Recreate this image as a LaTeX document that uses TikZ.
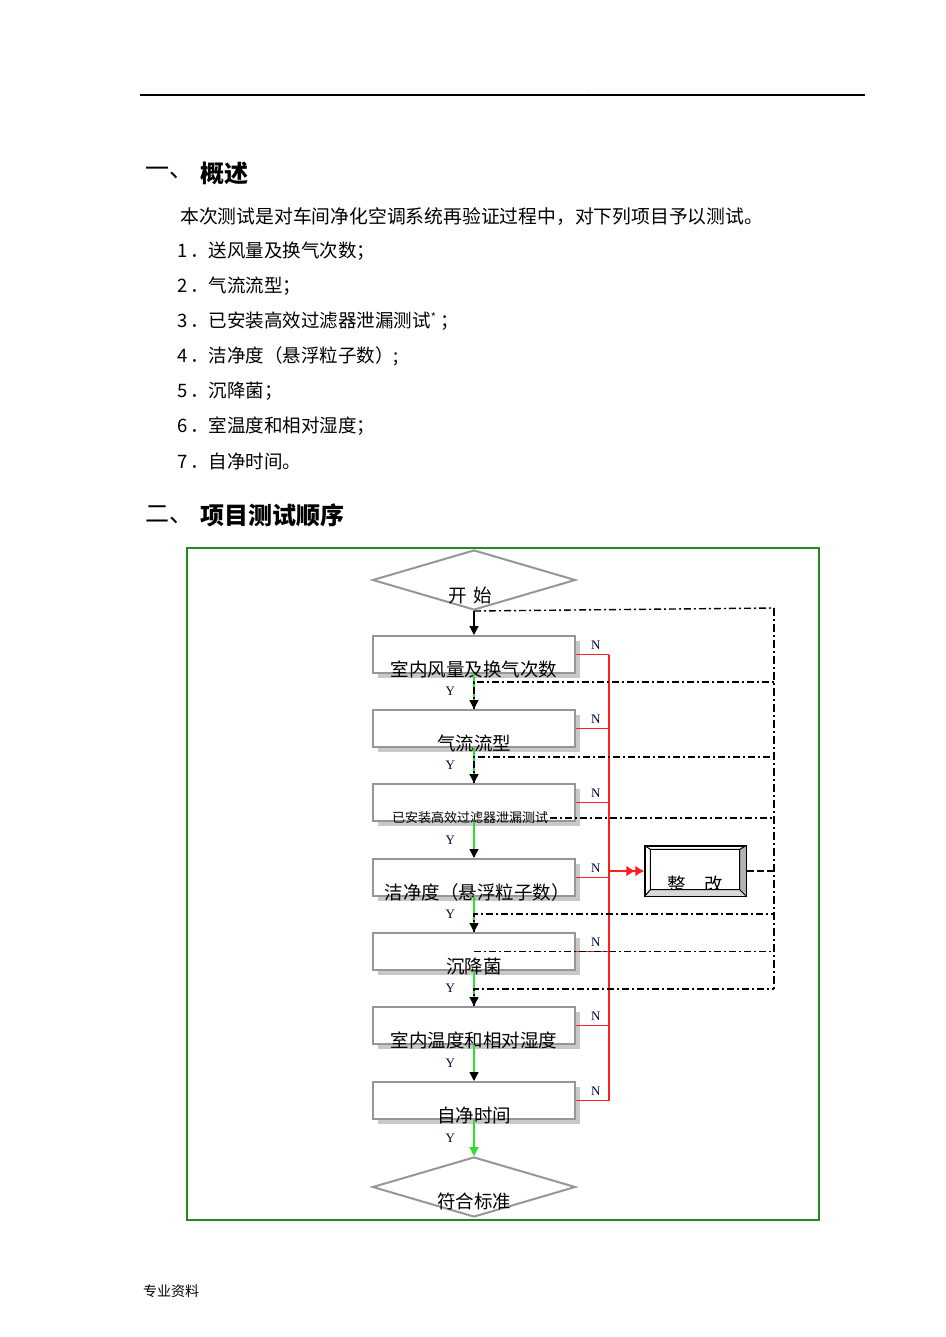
\documentclass[tikz,border=0pt]{standalone}
\usepackage{fontspec}
\setmainfont{Noto Sans CJK SC}
\newfontfamily\latserif{Liberation Serif}
\usetikzlibrary{shapes.geometric,arrows.meta}
\definecolor{framegreen}{RGB}{34,139,34}
\definecolor{boxgrey}{RGB}{150,150,150}
\definecolor{shadegrey}{RGB}{200,200,200}
\definecolor{nred}{RGB}{255,30,30}
\definecolor{ygreen}{RGB}{40,225,40}
\newcommand{\fsz}[1]{\fontsize{#1}{#1}\selectfont}

\begin{document}
\begin{tikzpicture}[x=1pt,y=-1pt,
    txt/.style={anchor=west, inner sep=0pt},
    testbox/.style={draw=boxgrey, line width=2pt, fill=white, minimum width=202pt,
        minimum height=37pt, inner sep=0pt,
        preaction={fill=shadegrey, transform canvas={xshift=4.5pt,yshift=-4.5pt}}},
    boxtext/.style={font=\fsz{18.5}, yshift=-14.5pt},
    decide/.style={diamond, draw=boxgrey, line width=2pt, fill=white, minimum width=203pt,
        inner sep=0pt},
    blk/.style={line width=1.3pt, -{Triangle[length=9pt,width=9pt]}},
    yes/.style={draw=ygreen, line width=1.4pt, -{Triangle[length=9pt,width=9pt,color=black]}},
    ylab/.style={left=15pt, font=\latserif\fsz{13}, text=black!80!blue},
    fb/.style={line width=1.4pt, dash pattern=on 7pt off 3pt on 2pt off 3pt},
    nline/.style={draw=nred, line width=1.9pt},
    nlab/.style={above=1pt, pos=0.6, font=\latserif\fsz{13}, text=black!80!blue}]
\useasboundingbox (0,0) rectangle (945,1337);
\fill[white] (0,0) rectangle (945,1337);

% page text
\draw[line width=1.3pt] (140,95) -- (865,95);
\node[inner sep=0pt, font=\fsz{5}] (dot) at (589,91) {.};
\node[txt, font=\fsz{24}] (h1n) at (145,173) {一、};
\node[txt, font=\fsz{24}\bfseries] (h1) at (200,173) {概述};
\node[txt, font=\fsz{18.8}] (intro) at (180,217) {本次测试是对车间净化空调系统再验证过程中，对下列项目予以测试。};
\node[txt, font=\fsz{18.5}] (i1) at (177,251) {1\hspace{3pt}．送风量及换气次数；};
\node[txt, font=\fsz{18.5}] (i2) at (177,286) {2\hspace{3pt}．气流流型；};
\node[txt, font=\fsz{18.5}] (i3) at (177,321) {3\hspace{3pt}．已安装高效过滤器泄漏测试\raisebox{6pt}{\fsz{11}*}\hspace{4pt}；};
\node[txt, font=\fsz{18.5}] (i4) at (177,356) {4\hspace{3pt}．洁净度（悬浮粒子数）;};
\node[txt, font=\fsz{18.5}] (i5) at (177,391) {5\hspace{3pt}．沉降菌；};
\node[txt, font=\fsz{18.5}] (i6) at (177,426) {6\hspace{3pt}．室温度和相对湿度；};
\node[txt, font=\fsz{18.5}] (i7) at (177,461) {7\hspace{3pt}．自净时间。};
\node[txt, font=\fsz{24}] (h2n) at (145,515) {二、};
\node[txt, font=\fsz{24}\bfseries] (h2) at (200,515) {项目测试顺序};
\node[txt, font=\fsz{14}] (foot) at (143,1291) {专业资料};

% flow chart frame
\draw[framegreen, line width=2pt] (187,548) rectangle (819,1220);

% steps
\node[decide, minimum height=60pt, label={[font=\fsz{18.5}, xshift=-4pt, yshift=-15pt]center:开\hspace{6pt}始}] (st) at (474,580) {};
\node[testbox, label={[boxtext]center:室内风量及换气次数}] (b1) at (474,654.5) {};
\node[testbox, label={[boxtext]center:气流流型}] (b2) at (474,728.5) {};
\node[testbox, label={[font=\fsz{13}, xshift=-4pt, yshift=-15.5pt]center:已安装高效过滤器泄漏测试}] (b3) at (474,802.5) {};
\node[testbox, label={[boxtext, xshift=3pt]center:洁净度（悬浮粒子数）}] (b4) at (474,877.5) {};
\node[testbox, label={[boxtext]center:沉降菌}] (b5) at (474,951.5) {};
\node[testbox, label={[boxtext]center:室内温度和相对湿度}] (b6) at (474,1025.5) {};
\node[testbox, label={[boxtext]center:自净时间}] (b7) at (474,1100.5) {};
\node[decide, minimum height=60pt, label={[font=\fsz{18.5}, yshift=-14pt]center:符合标准}] (ed) at (474,1187) {};

% rework box
\node[draw, line width=1.3pt, fill=white, minimum width=101pt, minimum height=50pt,
    label={[font=\fsz{18.5}, xshift=0pt, yshift=-13pt]center:整\hspace{18.5pt}改}] (zg) at (695.5,871) {};
\coordinate (inw) at ([shift={(6,4)}]zg.north west);
\coordinate (ine) at ([shift={(-7,4)}]zg.north east);
\coordinate (ise) at ([shift={(-7,-7)}]zg.south east);
\coordinate (isw) at ([shift={(6,-7)}]zg.south west);
\fill[gray!60] (zg.north east) -- (zg.south east) -- (ise) -- (ine) -- cycle;
\fill[gray!30] (zg.south west) -- (zg.south east) -- (ise) -- (isw) -- cycle;
\draw[line width=1pt] (inw) rectangle (ise)
    (zg.north west) -- (inw) (zg.north east) -- (ine)
    (zg.south east) -- (ise) (zg.south west) -- (isw);
\draw[line width=1.3pt] (zg.north west) rectangle (zg.south east);

% yes arrows
\draw[blk] (st.south) -- (b1.north);
\draw[yes] (b1.south) -- node[ylab]{Y} (b2.north);
\draw[yes] (b2.south) -- node[ylab]{Y} (b3.north);
\draw[yes] (b3.south) -- node[ylab]{Y} (b4.north);
\draw[yes] (b4.south) -- node[ylab]{Y} (b5.north);
\draw[yes] (b5.south) -- node[ylab]{Y} (b6.north);
\draw[yes] (b6.south) -- node[ylab]{Y} (b7.north);
\draw[yes, -{Triangle[length=9pt,width=9pt]}] (b7.south) -- node[ylab]{Y} (ed.north);

% no branches
\coordinate (bus) at (609,0);
\draw[nline] (b1.east) -- node[nlab]{N} (b1.east -| bus);
\draw[nline] (b2.east) -- node[nlab]{N} (b2.east -| bus);
\draw[nline] (b3.east) -- node[nlab]{N} (b3.east -| bus);
\draw[nline] (b4.east) -- node[nlab]{N} (b4.east -| bus);
\draw[nline] (b5.east) -- node[nlab]{N} (b5.east -| bus);
\draw[nline] (b6.east) -- node[nlab]{N} (b6.east -| bus);
\draw[nline] (b7.east) -- node[nlab]{N} (b7.east -| bus);
\draw[nline] (b1.east -| bus) -- (b7.east -| bus);
\draw[nline, line width=2.8pt, -{Latex[length=9pt,width=11pt]Latex[length=9pt,width=11pt]}] (zg.west -| bus) -- (zg.west);

% rework loops back
\coordinate (k0) at (774,608);
\coordinate (k1) at (774,682);
\coordinate (k2) at (774,757);
\coordinate (k3a) at (550,818);
\coordinate (k3) at (774,818);
\coordinate (k4) at (774,914);
\coordinate (k5) at (774,951.5);
\coordinate (k6) at (774,989);
\draw[fb] (st.south) -- (k0);
\draw[fb, line width=1.8pt, dash pattern=on 8pt off 3pt on 2pt off 3pt] (k0) -- (k6);
\draw[fb] (b2.north) |- (k1);
\draw[fb] (b3.north) |- (k2);
\draw[fb] (k3a) -- (k3);
\draw[fb] (b5.north) |- (k4);
\draw[fb] (b5.center) -- (k5);
\draw[fb] (b6.north) |- (k6);
\draw[line width=1.8pt, dash pattern=on 7pt off 3pt] (zg.east) -- (zg.east -| k0);
\end{tikzpicture}
\end{document}
